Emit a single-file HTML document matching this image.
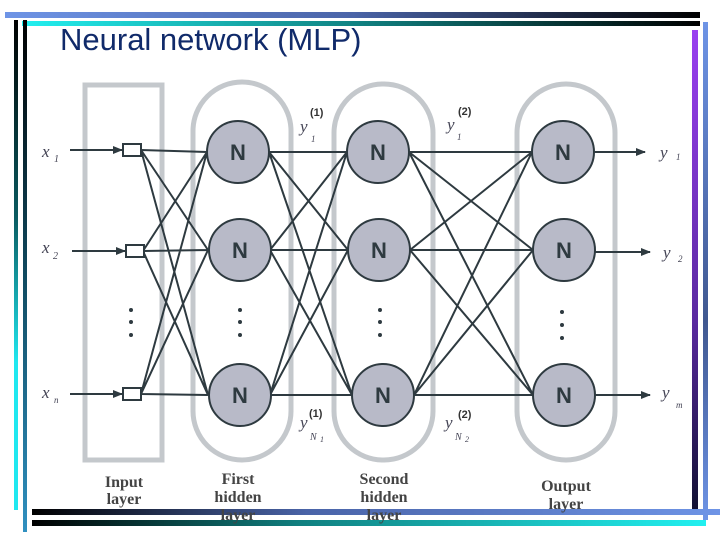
<!DOCTYPE html>
<html><head><style>
html,body{margin:0;padding:0;background:#fff;}
body{width:720px;height:540px;position:relative;overflow:hidden;font-family:"Liberation Sans",sans-serif;}
.b{position:absolute;}
</style></head><body>
<div class="b" style="left:5px;top:12px;width:695px;height:6px;background:linear-gradient(90deg,#6e94e6,#4a64a8 50%,#000)"></div>
<div class="b" style="left:22px;top:21px;width:678px;height:5px;background:linear-gradient(90deg,#22f0f0,#108080 50%,#000)"></div>
<div class="b" style="left:14px;top:20px;width:4px;height:490px;background:linear-gradient(180deg,#000,#0a5a60 40%,#20e8f0 70%,#20e8f0)"></div>
<div class="b" style="left:23px;top:20px;width:4px;height:512px;background:linear-gradient(180deg,#000,#104a60 50%,#3090c0)"></div>
<div class="b" style="left:692px;top:30px;width:6px;height:485px;background:linear-gradient(180deg,#9a40f0,#5a2aa0 60%,#101030)"></div>
<div class="b" style="left:703px;top:22px;width:5px;height:498px;background:linear-gradient(180deg,#6e94e6,#405890 60%,#6e94e6)"></div>
<div class="b" style="left:32px;top:509px;width:688px;height:6px;background:linear-gradient(90deg,#000,#4a64a8 40%,#6e94e6)"></div>
<div class="b" style="left:32px;top:520px;width:674px;height:6px;background:linear-gradient(90deg,#000,#108080 40%,#22f0f0)"></div>
<div class="b" style="left:60px;top:22px;font-size:31px;color:#102a6a;">Neural network (MLP)</div>
<svg class="b" style="left:0;top:0" width="720" height="540">
<defs><marker id="a" markerWidth="10" markerHeight="8" refX="9" refY="4" orient="auto" markerUnits="userSpaceOnUse"><path d="M0,0L10,4L0,8z" fill="#2e3a40"/></marker></defs>
<g fill="none" stroke="#c4c8cc" stroke-width="5">
<rect x="85" y="85" width="77" height="375"/>
<rect x="193" y="82" width="98" height="378" rx="49"/>
<rect x="334" y="84" width="99" height="376" rx="49"/>
<rect x="517" y="84" width="98" height="376" rx="49"/>
</g>
<g stroke="#2e3a40" stroke-width="2" fill="none">
<line x1="70" y1="150" x2="122" y2="150" marker-end="url(#a)"/>
<line x1="72" y1="251" x2="125" y2="251" marker-end="url(#a)"/>
<line x1="70" y1="394" x2="122" y2="394" marker-end="url(#a)"/>
<path d="M141,150L207,152M141,150L208,250M141,150L208,395M143,251L207,152M143,251L208,250M143,251L208,395M141,394L207,152M141,394L208,250M141,394L208,395"/>
<path d="M269,152L347,152M269,152L348,250M269,152L352,395M270,250L347,152M270,250L348,250M270,250L352,395M270,395L347,152M270,395L348,250M270,395L352,395"/>
<path d="M409,152L532,152M409,152L533,250M409,152L533,395M410,250L532,152M410,250L533,250M410,250L533,395M414,395L532,152M414,395L533,250M414,395L533,395"/>
<line x1="594" y1="152" x2="645" y2="152" marker-end="url(#a)"/>
<line x1="595" y1="252" x2="650" y2="252" marker-end="url(#a)"/>
<line x1="595" y1="395" x2="650" y2="395" marker-end="url(#a)"/>
</g>
<g fill="#fff" stroke="#2e3a40" stroke-width="2">
<rect x="123" y="144" width="18" height="12"/>
<rect x="126" y="245" width="18" height="12"/>
<rect x="123" y="388" width="18" height="12"/>
</g>
<g fill="#b8bac8" stroke="#2e3a40" stroke-width="2">
<circle cx="238" cy="152" r="31"/><circle cx="240" cy="250" r="31"/><circle cx="240" cy="395" r="31"/>
<circle cx="378" cy="152" r="31"/><circle cx="379" cy="250" r="31"/><circle cx="383" cy="395" r="31"/>
<circle cx="563" cy="152" r="31"/><circle cx="564" cy="250" r="31"/><circle cx="564" cy="395" r="31"/>
</g>
<g fill="#2e3a40" font-family="Liberation Sans" font-weight="bold" font-size="22" text-anchor="middle">
<text x="238" y="160">N</text><text x="240" y="258">N</text><text x="240" y="403">N</text>
<text x="378" y="160">N</text><text x="379" y="258">N</text><text x="383" y="403">N</text>
<text x="563" y="160">N</text><text x="564" y="258">N</text><text x="564" y="403">N</text>
</g>
<g fill="#2e3a40">
<circle cx="131" cy="310" r="2"/><circle cx="131" cy="322" r="2"/><circle cx="131" cy="335" r="2"/>
<circle cx="240" cy="310" r="2"/><circle cx="240" cy="322" r="2"/><circle cx="240" cy="335" r="2"/>
<circle cx="380" cy="310" r="2"/><circle cx="380" cy="322" r="2"/><circle cx="380" cy="335" r="2"/>
<circle cx="562" cy="312" r="2"/><circle cx="562" cy="325" r="2"/><circle cx="562" cy="338" r="2"/>
</g>
<g font-family="Liberation Serif" font-style="italic" fill="#445" font-size="17">
<text x="42" y="157">x</text><text x="54" y="162" font-size="10">1</text>
<text x="42" y="253">x</text><text x="53" y="259" font-size="10">2</text>
<text x="42" y="398">x</text><text x="54" y="403" font-size="9">n</text>
<text x="660" y="158">y</text><text x="676" y="160" font-size="9">1</text>
<text x="663" y="258">y</text><text x="678" y="262" font-size="9">2</text>
<text x="662" y="398">y</text><text x="676" y="408" font-size="9">m</text>
<text x="300" y="132">y</text><text x="311" y="142" font-size="9">1</text>
<text x="447" y="130">y</text><text x="457" y="140" font-size="9">1</text>
<text x="300" y="428">y</text><text x="310" y="440" font-size="10">N</text><text x="320" y="442" font-size="8">1</text>
<text x="445" y="428">y</text><text x="455" y="440" font-size="10">N</text><text x="465" y="442" font-size="8">2</text>
</g>
<g font-family="Liberation Sans" font-weight="bold" fill="#333" font-size="11">
<text x="310" y="116">(1)</text><text x="458" y="115">(2)</text>
<text x="309" y="417">(1)</text><text x="458" y="418">(2)</text>
</g>
<g font-family="Liberation Serif" font-weight="bold" fill="#444" font-size="16" text-anchor="middle">
<text x="124" y="487">Input</text><text x="124" y="504">layer</text>
<text x="238" y="484">First</text><text x="238" y="502">hidden</text><text x="238" y="520">layer</text>
<text x="384" y="484">Second</text><text x="384" y="502">hidden</text><text x="384" y="520">layer</text>
<text x="566" y="491">Output</text><text x="566" y="509">layer</text>
</g>
</svg>
</body></html>
